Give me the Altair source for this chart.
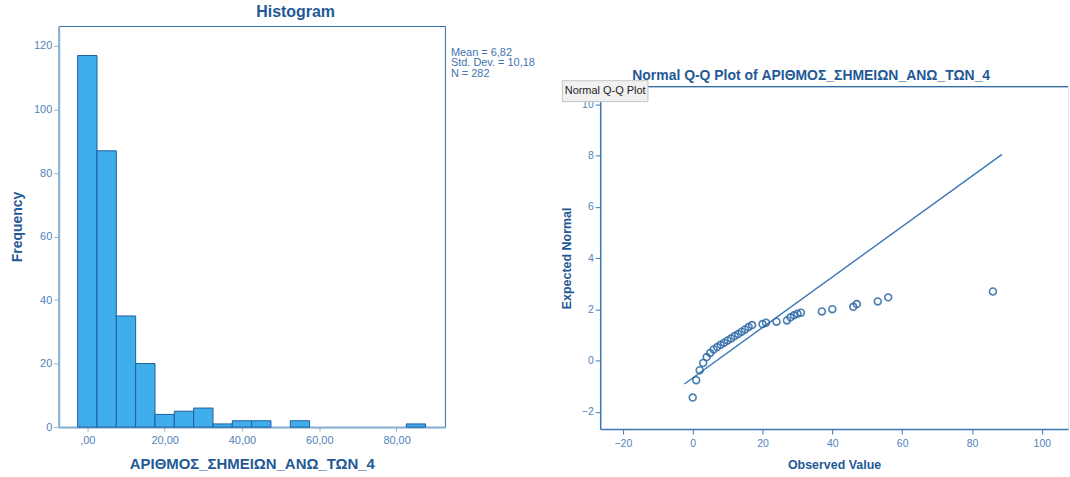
import altair as alt
import pandas as pd

FONT = "Liberation Sans"
TITLE_C = "#1f5a96"
LABEL_C = "#4f84bc"

# ---------------- Histogram data ----------------
bin_centers = [0, 5, 10, 15, 20, 25, 30, 35, 40, 45, 55, 85]
bin_counts = [117, 87, 35, 20, 4, 5, 6, 1, 2, 2, 2, 1]
bin_half_width = 2.5
hist_x_ticks = [0, 20, 40, 60, 80]
hist_x_labels = [",00", "20,00", "40,00", "60,00", "80,00"]
hist_y_ticks = [0, 20, 40, 60, 80, 100, 120]
stats_lines = ["Mean = 6,82", "Std. Dev. = 10,18", "N = 282"]
var_name = "ΑΡΙΘΜΟΣ_ΣΗΜΕΙΩΝ_ΑΝΩ_ΤΩΝ_4"

# ---------------- Q-Q data ----------------
qq_observed = [0, 1, 2, 3, 4, 5, 6, 7, 8, 9, 10, 11, 12, 13, 14, 15, 16, 17,
               20, 21, 24, 27, 28, 29, 30, 31, 37, 40, 46, 47, 53, 56, 86]
qq_expected = [-1.44, -0.76, -0.37, -0.09, 0.14, 0.30, 0.44, 0.53, 0.62, 0.70,
               0.79, 0.87, 0.96, 1.04, 1.13, 1.22, 1.31, 1.39,
               1.43, 1.48, 1.52, 1.57, 1.69, 1.77, 1.83, 1.87, 1.92, 2.01,
               2.10, 2.21, 2.31, 2.47, 2.70]
qq_line_x = [-2.4, 88.6]
qq_line_y = [-0.91, 8.05]
qq_x_ticks = [-20, 0, 20, 40, 60, 80, 100]
qq_y_ticks = [-2, 0, 2, 4, 6, 8, 10]

HW, HH = 388, 403
QW, QH = 470, 344

hist_df = pd.DataFrame({"center": bin_centers, "count": bin_counts})
label_expr = " : ".join(
    f"datum.value == {v} ? '{l}'" for v, l in zip(hist_x_ticks, hist_x_labels)
) + " : ''"

hx = alt.Scale(domain=[-7.4, 92.5], nice=False, zero=False)
hy = alt.Scale(domain=[0, 126.3], nice=False)

bars = alt.Chart(hist_df).transform_calculate(
    x0=f"datum.center - {bin_half_width}", x1=f"datum.center + {bin_half_width}"
).mark_bar(fill="#40aeea", stroke="#1b5f9e", strokeWidth=1).encode(
    x=alt.X("x0:Q", scale=hx, axis=alt.Axis(
        values=hist_x_ticks, labelExpr=label_expr, title=var_name,
        domainColor="#8aafd4", domainWidth=2, tickColor="#8aafd4", tickSize=4,
        labelColor=LABEL_C, labelFontSize=11, labelFont=FONT, labelPadding=3,
        titleColor=TITLE_C, titleFontSize=15, titleFont=FONT, titleFontWeight="bold",
        titlePadding=12, grid=False)),
    x2="x1:Q",
    y=alt.Y("count:Q", scale=hy, axis=alt.Axis(
        values=hist_y_ticks, title="Frequency",
        domainColor="#8aafd4", domainWidth=2, tickColor="#8aafd4", tickSize=5,
        labelColor=LABEL_C, labelFontSize=11, labelFont=FONT, labelPadding=2,
        titleColor=TITLE_C, titleFontSize=14, titleFont=FONT, titleFontWeight="bold",
        titlePadding=9, grid=False)),
    y2=alt.datum(0),
)

stats = alt.Chart(pd.DataFrame({"a": [0]})).mark_text(
    text=stats_lines, align="left", baseline="top", font=FONT, fontSize=11,
    lineHeight=10.5, color="#3f74ae"
).encode(x=alt.value(HW + 6), y=alt.value(21))

hist = alt.layer(bars, stats).properties(
    width=HW, height=HH,
    title=alt.TitleParams("Histogram", font=FONT, fontSize=16, fontWeight="bold",
                          color=TITLE_C, offset=6, dx=44),
    view=alt.ViewBackground(stroke="#2e6ca8", strokeWidth=1),
)

# ---------------- Q-Q plot ----------------
qq_df = pd.DataFrame({"obs": qq_observed, "exp": qq_expected})
line_df = pd.DataFrame({"obs": qq_line_x, "exp": qq_line_y})

qx = alt.Scale(domain=[-26.5, 107.5], nice=False, zero=False)
qy = alt.Scale(domain=[-2.67, 10.69], nice=False, zero=False)

AX = dict(domainColor="#3a77b3", domainWidth=1.5, tickColor="#3a77b3", tickSize=5,
          labelColor=LABEL_C, labelFontSize=10.5, labelFont=FONT,
          titleColor=TITLE_C, titleFontSize=12.5, titleFont=FONT,
          titleFontWeight="bold", grid=False, zindex=0)

qline = alt.Chart(line_df).mark_line(color="#3a78b5", strokeWidth=1.4).encode(
    x=alt.X("obs:Q", scale=qx, axis=alt.Axis(values=qq_x_ticks, title="Observed Value",
                                            titlePadding=10, labelPadding=4, **AX)),
    y=alt.Y("exp:Q", scale=qy, axis=alt.Axis(values=qq_y_ticks, title="Expected Normal",
                                            titlePadding=8, labelPadding=2, **AX)),
)
qpts = alt.Chart(qq_df).mark_point(shape="circle", filled=False, size=48,
                                   strokeWidth=1.6, color="#2c68a6", opacity=0.85).encode(
    x=alt.X("obs:Q", scale=qx), y=alt.Y("exp:Q", scale=qy)
)
topline = alt.Chart(pd.DataFrame({"a": [0]})).mark_rule(
    color="#2e6ca8", strokeWidth=1.2
).encode(x=alt.value(0), x2=alt.value(QW), y=alt.value(0))

tip_box = alt.Chart(pd.DataFrame({"a": [0]})).mark_rect(
    fill="#f1f1f1", stroke="#c4c4c4", strokeWidth=1
).encode(x=alt.value(-38), x2=alt.value(48), y=alt.value(-6), y2=alt.value(15))
tip_text = alt.Chart(pd.DataFrame({"a": [0]})).mark_text(
    text="Normal Q-Q Plot", font=FONT, fontSize=11, color="#222222",
    align="center", baseline="middle"
).encode(x=alt.value(5), y=alt.value(4.5))

qq = alt.layer(qline, qpts, topline, tip_box, tip_text).properties(
    width=QW, height=QH,
    title=alt.TitleParams(f"Normal Q-Q Plot of {var_name}", font=FONT, fontSize=14,
                          fontWeight="bold", color=TITLE_C, offset=-3, dx=-23),
)

spacer = alt.Chart(pd.DataFrame({"a": [0]})).mark_text(text="", opacity=0).encode(
    x=alt.value(0), y=alt.value(0)
).properties(width=1, height=43,
             view=alt.ViewBackground(stroke="white", strokeOpacity=0, strokeWidth=0))

right = alt.vconcat(spacer, qq, spacing=0)

chart = alt.hconcat(hist, right, spacing=24).properties(
    padding={"left": 10, "top": 2, "right": 0, "bottom": 0}
).configure_view(stroke="transparent").configure(background="white")

chart.save("out.html", embed_options={"renderer": "svg", "actions": False})
